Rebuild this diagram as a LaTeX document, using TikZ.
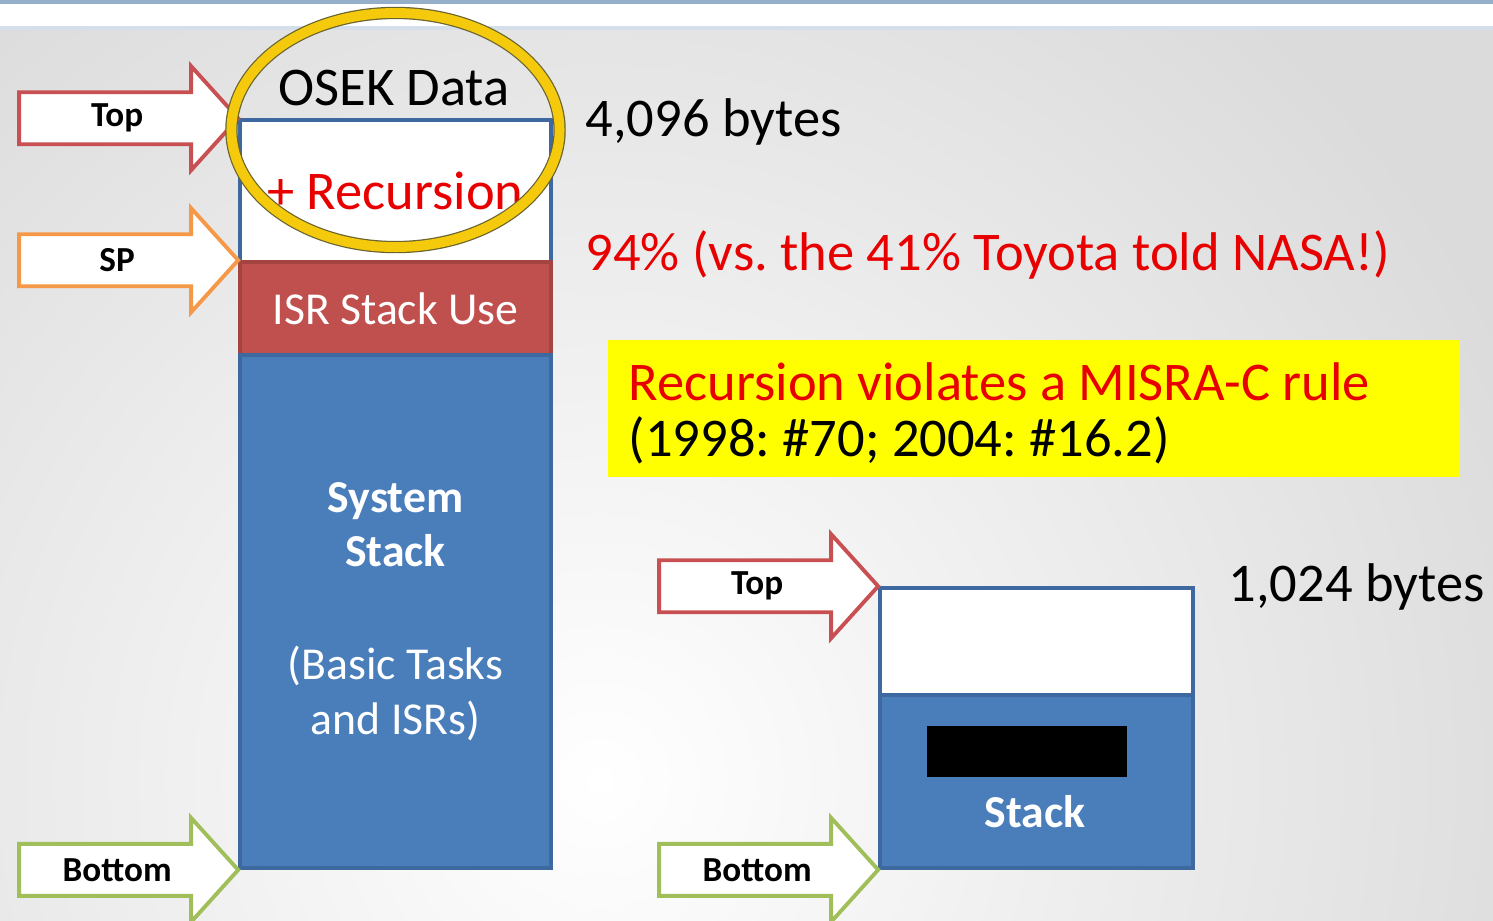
\documentclass[tikz,border=0pt]{standalone}
\usepackage{fontspec}
\setmainfont{Carlito}
\usepackage{tikz}
\usetikzlibrary{positioning, calc}
\frenchspacing

\definecolor{sysblue}{RGB}{74,126,187}
\definecolor{edgeblue}{RGB}{62,104,160}
\definecolor{isrred}{RGB}{192,80,77}
\definecolor{topred}{RGB}{200,80,82}
\definecolor{sporange}{RGB}{245,152,72}
\definecolor{botgreen}{RGB}{160,190,90}
\definecolor{ringyellow}{RGB}{246,202,12}
\definecolor{ringedge}{RGB}{105,100,45}
\definecolor{warnred}{RGB}{232,0,0}
\definecolor{notebg}{RGB}{255,255,0}
\definecolor{rulegray}{RGB}{150,175,200}

% pointer arrow: tip, colour, label name, label text
\newcommand{\ptrarrow}[4]{%
  \draw[ptr, draw=#2] (#1) -- ++(-47,-52) -- ++(0,26) -- ++(-172,0) -- ++(0,52)
    -- ++(172,0) -- ++(0,26) -- cycle;
  \node[ptrlabel] (#3) at ($(#1)+(-121,0)$) {#4};}

\begin{document}
\begin{tikzpicture}[x=0.01cm, y=-0.01cm,
  bigtext/.style={font=\fontsize{15.5}{18}\selectfont, inner sep=0pt},
  ptr/.style={fill=white, line width=1.1pt, line join=miter},
  ptrlabel/.style={font=\fontsize{10}{12}\selectfont\bfseries, inner sep=0pt},
  stackpart/.style={draw=edgeblue, line width=1pt, minimum width=3.11cm,
    inner sep=0pt, text=white, align=center,
    font=\fontsize{13}{15.6}\selectfont}]
\useasboundingbox (0,0) rectangle (1493,920);

% Background
\fill[white] (0,0) rectangle (1493,920);
\begin{scope}
\clip (0,28) rectangle (1493,920);
\fill[black!14] (0,28) rectangle (1493,920);
\shade[inner color=white, outer color=black!14] (600,780) circle (10cm);
\end{scope}
\draw[rulegray, line width=1.5pt] (0,1) -- (1493,1);
\draw[rulegray!40, line width=1pt] (0,28) -- (1493,28);

% System stack
\node[bigtext] (osek) at (394,88) {OSEK Data};
\node[stackpart, fill=white, minimum height=1.42cm, text=warnred,
  font=\fontsize{15.5}{18}\selectfont] (free) at (395.5,191) {+ Recursion};
\node[stackpart, fill=isrred, draw=isrred!85!black, minimum height=0.93cm] (isr)
  at (395.5,308.5) {ISR Stack Use};
\node[stackpart, fill=sysblue, minimum height=5.13cm] (sys) at (395.5,611.5)
  {\textbf{System}\\\textbf{Stack}\\[16.5pt](Basic Tasks\\and ISRs)};

% Pointers
\ptrarrow{free.north west}{topred}{toplbl}{Top}
\ptrarrow{isr.north west}{sporange}{splbl}{SP}
\ptrarrow{sys.south west}{botgreen}{botlbl}{Bottom}

% Highlight
\draw[ringedge, line width=3.5pt] (395.5,130) ellipse [x radius=1.64cm, y radius=1.17cm];
\draw[ringyellow, line width=2.8pt] (395.5,130) ellipse [x radius=1.64cm, y radius=1.17cm];

% Sizes
\node[bigtext, anchor=west] (size4k) at (585,122) {4,096 bytes};
\node[bigtext, anchor=west, text=warnred] (usage) at (585,255)
  {94\% (vs. the 41\% Toyota told NASA!)};

% MISRA note
\node[fill=notebg, minimum width=8.52cm, minimum height=1.37cm, inner sep=0pt]
  (misra) at (1034,408.5) {};
\node[bigtext, anchor=west, text=warnred] (misra1) at (628,382)
  {Recursion violates a MISRA-C rule};
\node[bigtext, anchor=west] (misra2) at (628,440) {(1998: \#70; 2004: \#16.2)};

% Small stack
\node[stackpart, fill=white, minimum width=3.13cm, minimum height=1.07cm] (sfree)
  at (1036.5,641.5) {};
\node[stackpart, fill=sysblue, minimum width=3.13cm, minimum height=1.73cm] (sstack)
  at (1036.5,781.5) {};
\node[fill=black, minimum width=2cm, minimum height=0.51cm, inner sep=0pt] (redact)
  at (1027,751.5) {};
\node[text=white, font=\fontsize{13}{15.6}\selectfont\bfseries, inner sep=0pt]
  (stacklbl) at (1035,812) {Stack};
\node[bigtext, anchor=west] (size1k) at (1228,587) {1,024 bytes};

\ptrarrow{sfree.north west}{topred}{stoplbl}{Top}
\ptrarrow{sstack.south west}{botgreen}{sbotlbl}{Bottom}
\end{tikzpicture}
\end{document}
